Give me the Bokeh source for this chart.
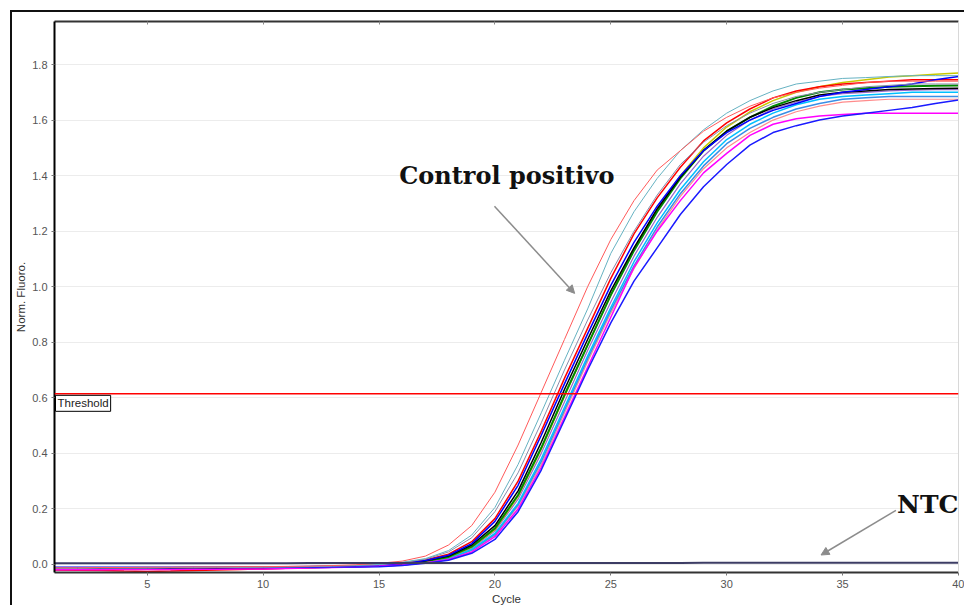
from bokeh.plotting import figure
from bokeh.models import (Range1d, FixedTicker, Span, Label, Arrow, NormalHead,
                          LinearAxis, NumeralTickFormatter)
from bokeh.embed import file_html
from bokeh.resources import INLINE

cycles = list(range(1, 41))

threshold = 0.615

ctrl_pos = [-0.012,-0.012,-0.011,-0.011,-0.010,-0.010,-0.009,-0.009,-0.008,-0.008,-0.007,-0.006,-0.004,-0.001,
            0.004,0.012,0.03,0.07,0.14,0.26,0.43,0.62,0.81,1.0,1.17,1.31,1.42,1.49,1.56,1.61,1.65,1.68,1.70,1.715,1.725,1.735,1.74,1.74,1.74,1.74]
teal = [-0.013,-0.013,-0.012,-0.012,-0.012,-0.011,-0.011,-0.010,-0.010,-0.009,-0.008,-0.007,-0.005,-0.003,
        0.0,0.008,0.021,0.05,0.106,0.205,0.36,0.546,0.735,0.92,1.12,1.27,1.39,1.49,1.565,1.625,1.67,1.705,1.73,1.74,1.75,1.753,1.757,1.76,1.76,1.76]
grayblue = [-0.014,-0.014,-0.013,-0.013,-0.013,-0.012,-0.012,-0.011,-0.011,-0.010,-0.009,-0.008,-0.006,-0.004,
            -0.001,0.006,0.019,0.045,0.096,0.19,0.33,0.51,0.70,0.88,1.05,1.20,1.33,1.44,1.52,1.58,1.625,1.66,1.685,1.70,1.71,1.72,1.725,1.73,1.73,1.73]
red = [-0.020,-0.021,-0.022,-0.024,-0.025,-0.024,-0.022,-0.020,-0.018,-0.016,-0.014,-0.011,-0.008,-0.005,
       -0.002,0.005,0.016,0.037,0.082,0.165,0.30,0.48,0.67,0.85,1.03,1.19,1.32,1.43,1.525,1.59,1.64,1.68,1.705,1.72,1.73,1.735,1.74,1.745,1.745,1.745]
blue = [-0.010,-0.010,-0.010,-0.010,-0.010,-0.010,-0.010,-0.010,-0.009,-0.009,-0.008,-0.007,-0.006,-0.005,
        -0.004,0.003,0.014,0.033,0.075,0.155,0.285,0.465,0.65,0.83,1.005,1.16,1.29,1.40,1.49,1.555,1.60,1.635,1.66,1.685,1.70,1.71,1.72,1.73,1.745,1.757]
black = [-0.015,-0.015,-0.015,-0.014,-0.014,-0.014,-0.013,-0.013,-0.012,-0.012,-0.011,-0.010,-0.008,-0.006,
         -0.003,0.003,0.013,0.03,0.07,0.14,0.265,0.44,0.63,0.81,0.985,1.14,1.28,1.395,1.49,1.56,1.61,1.645,1.67,1.69,1.70,1.705,1.71,1.712,1.714,1.715]
green = [-0.016,-0.016,-0.016,-0.015,-0.015,-0.015,-0.014,-0.014,-0.013,-0.013,-0.012,-0.010,-0.008,-0.006,
         -0.004,0.001,0.011,0.027,0.064,0.13,0.25,0.42,0.61,0.79,0.97,1.13,1.27,1.39,1.49,1.56,1.61,1.65,1.68,1.70,1.71,1.715,1.72,1.722,1.724,1.725]
yellow = [-0.016,-0.016,-0.016,-0.016,-0.015,-0.015,-0.015,-0.015,-0.015,-0.015,-0.013,-0.011,-0.009,-0.007,
          -0.005,0.0,0.01,0.026,0.062,0.125,0.245,0.415,0.605,0.79,0.97,1.135,1.28,1.40,1.50,1.575,1.63,1.67,1.70,1.72,1.735,1.745,1.755,1.76,1.765,1.77]
purple = [-0.017,-0.017,-0.016,-0.016,-0.016,-0.015,-0.015,-0.014,-0.014,-0.013,-0.012,-0.011,-0.009,-0.007,
          -0.005,-0.001,0.009,0.024,0.058,0.12,0.235,0.40,0.585,0.77,0.945,1.11,1.25,1.37,1.47,1.545,1.60,1.64,1.665,1.685,1.695,1.70,1.705,1.708,1.71,1.71]
cyan = [-0.018,-0.018,-0.017,-0.017,-0.017,-0.016,-0.016,-0.015,-0.015,-0.014,-0.013,-0.012,-0.010,-0.008,
        -0.006,-0.002,0.008,0.022,0.054,0.112,0.22,0.38,0.565,0.75,0.925,1.09,1.23,1.35,1.45,1.53,1.585,1.625,1.655,1.675,1.685,1.69,1.695,1.70,1.70,1.70]
steel = [-0.018,-0.018,-0.018,-0.017,-0.017,-0.017,-0.016,-0.016,-0.015,-0.015,-0.014,-0.012,-0.010,-0.008,
         -0.006,-0.002,0.007,0.021,0.052,0.108,0.215,0.37,0.555,0.74,0.915,1.075,1.215,1.335,1.435,1.515,1.57,1.61,1.64,1.66,1.675,1.68,1.685,1.685,1.685,1.685]
salmon = [-0.019,-0.019,-0.018,-0.018,-0.018,-0.017,-0.017,-0.016,-0.016,-0.015,-0.014,-0.013,-0.011,-0.009,
          -0.007,-0.003,0.006,0.02,0.05,0.105,0.21,0.36,0.545,0.73,0.905,1.065,1.205,1.325,1.425,1.50,1.555,1.60,1.63,1.65,1.665,1.67,1.675,1.675,1.675,1.675]
magenta = [-0.019,-0.019,-0.019,-0.018,-0.018,-0.018,-0.017,-0.017,-0.016,-0.016,-0.015,-0.013,-0.011,-0.009,
           -0.006,-0.002,0.006,0.018,0.045,0.10,0.20,0.35,0.53,0.71,0.89,1.07,1.20,1.31,1.41,1.48,1.545,1.585,1.605,1.615,1.62,1.625,1.625,1.625,1.625,1.625]
blue_low = [-0.012,-0.012,-0.012,-0.012,-0.012,-0.012,-0.011,-0.011,-0.011,-0.011,-0.010,-0.010,-0.009,-0.009,
            -0.008,-0.004,0.004,0.015,0.04,0.09,0.19,0.34,0.52,0.70,0.87,1.02,1.14,1.26,1.36,1.44,1.51,1.555,1.58,1.60,1.615,1.625,1.635,1.645,1.66,1.672]
ntc = [0.004,0.004,0.004,0.004,0.004,0.004,0.004,0.004,0.004,0.004,0.004,
       0.005,0.005,0.005,0.005,0.005,0.005,0.005,0.005,0.005,0.005,0.005,0.005,0.005,0.005,0.005,0.005,0.005,
       0.006,0.006,0.006,0.006,0.006,0.006,0.006,0.006,0.006,0.006,0.006,0.006]

y_ticks = [0.0, 0.2, 0.4, 0.6, 0.8, 1.0, 1.2, 1.4, 1.6, 1.8]
x_ticks = [5, 10, 15, 20, 25, 30, 35, 40]

series = [
    (salmon, "#ff8c8c", 1.2),
    (purple, "#9966cc", 1.2),
    (steel, "#3a8ee6", 1.5),
    (cyan, "#00bfff", 1.5),
    (yellow, "#c8c800", 1.5),
    (green, "#008a00", 2.0),
    (black, "#000000", 1.5),
    (red, "#ff0000", 1.5),
    (blue, "#0000ff", 1.5),
    (magenta, "#ff00ff", 1.5),
    (blue_low, "#1a1aff", 1.5),
    (grayblue, "#8a8aa8", 1.0),
    (teal, "#66b2c2", 1.0),
    (ctrl_pos, "#ff5a5a", 1.0),
]

p = figure(width=954, height=595, output_backend="svg", toolbar_location=None,
           x_range=Range1d(1, 40), y_range=Range1d(-0.029, 1.955),
           min_border_left=42, min_border_right=8, min_border_top=9, min_border_bottom=35,
           margin=(10, 0, 0, 10),
           styles={"border-top": "2px solid #111", "border-left": "2px solid #111"})

p.background_fill_color = "white"
p.border_fill_color = "white"
p.outline_line_color = None

for ys, col, w in series:
    p.line(cycles, ys, line_color=col, line_width=w)
p.line(cycles, ntc, line_color="#3c3c64", line_width=2)

p.add_layout(Span(location=threshold, dimension="width", line_color="#ff0000", line_width=1.5))
p.add_layout(Label(x=1, y=threshold - 0.006, text="Threshold", text_baseline="top",
                   text_font="Liberation Sans", text_font_size="11.5px", text_color="#222222",
                   border_line_color="black", border_line_width=1,
                   background_fill_color="white", padding=2, x_offset=1))

# axes
for ax in [p.xaxis[0], p.yaxis[0]]:
    ax.major_label_text_font = "Liberation Sans"
    ax.major_label_text_font_size = "11px"
    ax.major_label_text_color = "#555555"
    ax.axis_label_text_font = "Liberation Sans"
    ax.axis_label_text_font_size = "11.5px"
    ax.axis_label_text_font_style = "normal"
    ax.axis_label_text_color = "#333333"
    ax.major_tick_out = 3
    ax.major_tick_in = 0
    ax.minor_tick_out = 0
    ax.minor_tick_in = 0
    ax.axis_line_width = 2
    ax.major_tick_line_color = "#777777"

p.xaxis[0].ticker = FixedTicker(ticks=x_ticks)
p.yaxis[0].ticker = FixedTicker(ticks=y_ticks)
p.yaxis[0].formatter = NumeralTickFormatter(format="0.0")
p.xaxis[0].axis_label = "Cycle"
p.yaxis[0].axis_label = "Norm. Fluoro."
p.xaxis[0].axis_line_color = "#333333"
p.yaxis[0].axis_line_color = "#000000"
p.xaxis[0].major_label_standoff = 4
p.yaxis[0].major_label_standoff = 4
p.xaxis[0].axis_label_standoff = 2
p.yaxis[0].axis_label_standoff = 2

top = LinearAxis(ticker=FixedTicker(ticks=x_ticks), major_label_text_font_size="10px",
                 major_label_text_color=None,
                 axis_line_color="#333333", axis_line_width=2, major_tick_in=3, major_tick_out=0,
                 minor_tick_out=0, major_tick_line_color="#888888")
p.add_layout(top, "above")
right = LinearAxis(ticker=FixedTicker(ticks=[]), major_label_text_font_size="10px",
                   major_label_text_color=None,
                   axis_line_color="#d8d8d8", axis_line_width=1, major_tick_out=0, minor_tick_out=0)
p.add_layout(right, "right")

p.xgrid.visible = False
p.ygrid.ticker = FixedTicker(ticks=y_ticks)
p.ygrid.grid_line_color = "#ececec"
p.ygrid.grid_line_width = 1

# annotations
p.add_layout(Label(x=15.87, y=1.35, text="Control positivo", text_font="DejaVu Serif",
                   text_font_style="bold", text_font_size="24px", text_color="#111111"))
p.add_layout(Arrow(x_start=19.98, y_start=1.29, x_end=23.44, y_end=0.976,
                   line_color="#8c8c8c", line_width=1.5,
                   end=NormalHead(size=8, fill_color="#8c8c8c", line_color="#8c8c8c")))
p.add_layout(Label(x=37.35, y=0.165, text="NTC", text_font="DejaVu Serif",
                   text_font_style="bold", text_font_size="25px", text_color="#111111"))
p.add_layout(Arrow(x_start=37.3, y_start=0.195, x_end=34.07, y_end=0.034,
                   line_color="#8c8c8c", line_width=1.5,
                   end=NormalHead(size=8, fill_color="#8c8c8c", line_color="#8c8c8c")))

open("out.html", "w").write(file_html(p, INLINE))
